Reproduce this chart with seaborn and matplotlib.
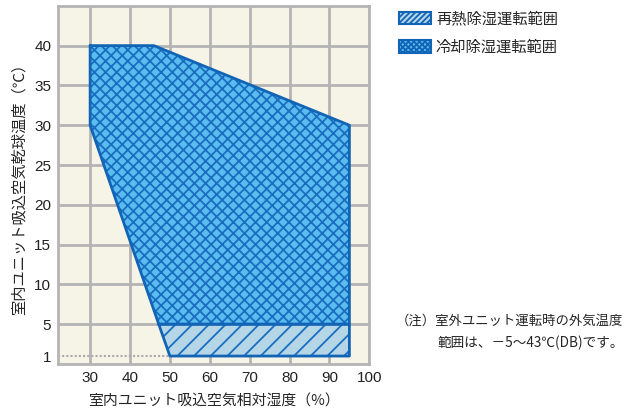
import matplotlib
matplotlib.use('Agg')
import matplotlib.pyplot as plt
import seaborn as sns
import numpy as np
import pandas as pd
from matplotlib.patches import Patch

# 冷却除湿運転範囲 (polygon, closed)
cool_rh = [30, 46, 95, 95, 47.2, 30, 30]
cool_temp = [40, 40, 30, 5, 5, 30, 40]
# 再熱除湿運転範囲
reheat_rh = [47.2, 95, 95, 50, 47.2]
reheat_temp = [5, 5, 1, 1, 5]
# 下限 1℃ の点線
low_rh = [22, 50]
low_temp = [1, 1]

x_ticks = [30, 40, 50, 60, 70, 80, 90, 100]
y_ticks = [1, 5, 10, 15, 20, 25, 30, 35, 40]
x_grid = [30, 40, 50, 60, 70, 80, 90]
y_grid = [5, 10, 15, 20, 25, 30, 35, 40]

sns.set_style('white')
plt.rcParams['font.family'] = ['Noto Sans CJK JP', 'DejaVu Sans']
plt.rcParams['hatch.linewidth'] = 1.3

edge = '#1264b6'
hatch_c = '#1a6ec0'
bg = '#f6f4e6'

fig = plt.figure(figsize=(6.26, 4.16), dpi=100)
ax = fig.add_axes([0.093, 0.125, 0.497, 0.861])
ax.set_facecolor(bg)

for g in x_grid:
    ax.axvline(g, color='#b4b4b4', lw=2, zorder=1)
for g in y_grid:
    ax.axhline(g, color='#b4b4b4', lw=2, zorder=1)

sns.lineplot(x=low_rh, y=low_temp, ax=ax, color='#aaaaaa', lw=1.5,
             linestyle=(0, (1, 1)), zorder=2)

ax.fill(cool_rh, cool_temp, facecolor='#5bbcef', edgecolor=hatch_c,
        hatch='xxx', lw=0, zorder=3)
ax.fill(reheat_rh, reheat_temp, facecolor='#b5d6e7', edgecolor=hatch_c,
        hatch='//', lw=0, zorder=3)

df_cool = pd.DataFrame({'rh': cool_rh, 't': cool_temp})
df_reheat = pd.DataFrame({'rh': reheat_rh, 't': reheat_temp})
sns.lineplot(data=df_cool, x='rh', y='t', sort=False, estimator=None, ax=ax,
             color=edge, lw=2, zorder=4)
sns.lineplot(data=df_reheat, x='rh', y='t', sort=False, estimator=None, ax=ax,
             color=edge, lw=2, zorder=4)

ax.set_xlim(22, 100)
ax.set_ylim(0, 45)
ax.set_xticks(x_ticks)
ax.set_yticks(y_ticks)
ax.tick_params(length=0, labelsize=11, pad=5, colors='#222222')
for lab in ax.get_xticklabels() + ax.get_yticklabels():
    lab.set_family('Liberation Sans')
for s in ax.spines.values():
    s.set_color('#b4b4b4')
    s.set_linewidth(2)
ax.set_xlabel('室内ユニット吸込空気相対湿度（%）', fontsize=10.7, labelpad=7)
ax.set_ylabel('室内ユニット吸込空気乾球温度（℃）', fontsize=11, labelpad=5)

handles = [
    Patch(facecolor='#b5d6e7', edgecolor=edge, hatch='//////', lw=1.5,
          label='再熱除湿運転範囲'),
    Patch(facecolor='#5bbcef', edgecolor=edge, hatch='xxxxxx', lw=1.5,
          label='冷却除湿運転範囲'),
]
fig.legend(handles=handles, loc='upper left', bbox_to_anchor=(0.628, 0.99),
           frameon=False, fontsize=11, handlelength=2.1, handleheight=0.9,
           handletextpad=0.3, labelspacing=0.75, borderaxespad=0)

fig.text(0.632, 0.228, '（注）室外ユニット運転時の外気温度', fontsize=9.6,
         ha='left', va='center')
fig.text(0.997, 0.176, '範囲は、－5～43℃(DB)です。', fontsize=9.8,
         ha='right', va='center')

fig.savefig('out.png', dpi=100)
